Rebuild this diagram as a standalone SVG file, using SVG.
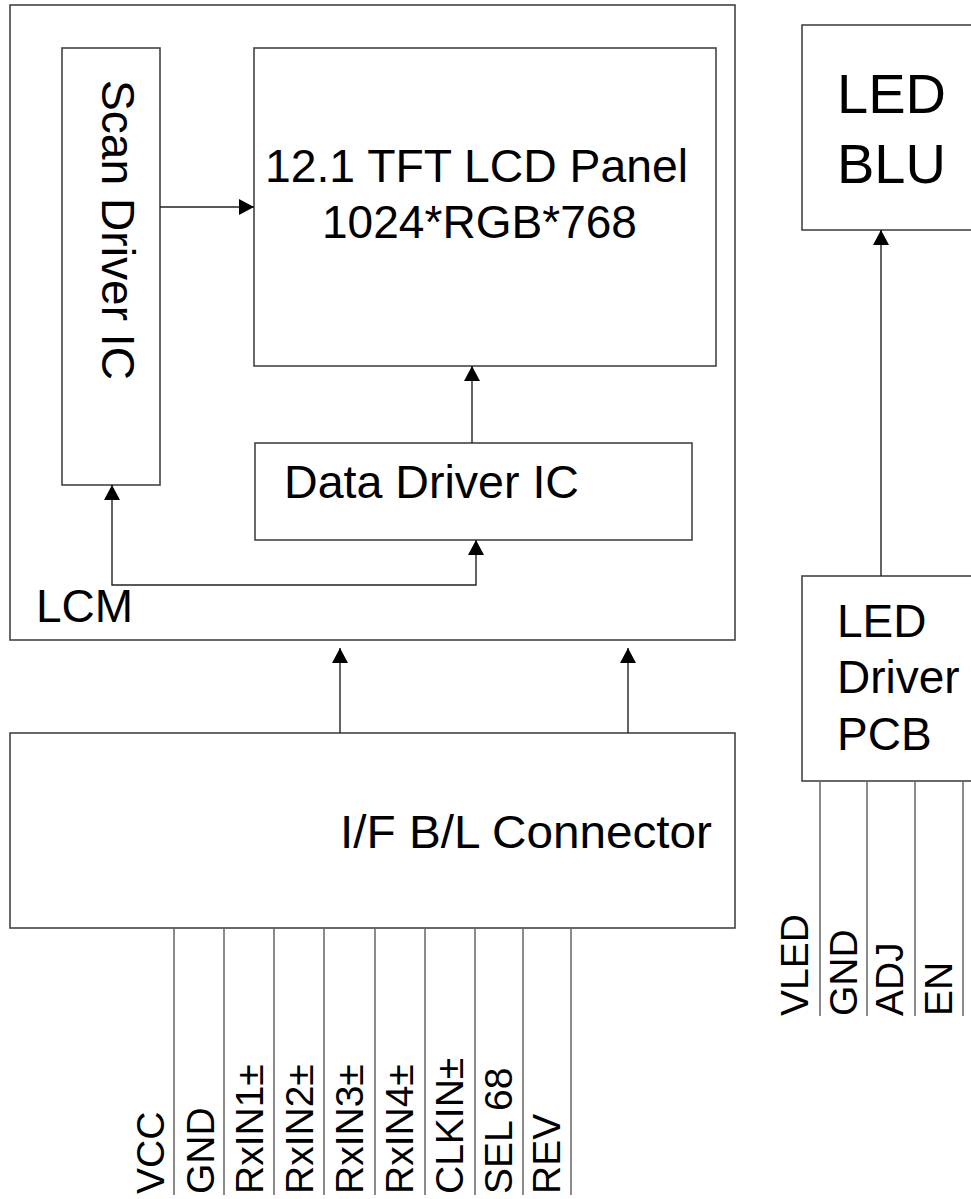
<svg xmlns="http://www.w3.org/2000/svg" width="971" height="1199" viewBox="0 0 971 1199">
<style>
.box{fill:#fff;stroke:#444;stroke-width:1.6}
.pin{stroke:#666;stroke-width:1.5;fill:none}
.con{stroke:#222;stroke-width:1.4;fill:none}
text{font-family:"Liberation Sans",Arial,sans-serif;fill:#000}
.big{font-size:46px}
.pl{font-size:39px}
</style>
<defs>
<marker id="ah" markerUnits="userSpaceOnUse" viewBox="0 0 15 16" refX="15" refY="8" markerWidth="15" markerHeight="16" orient="auto-start-reverse">
<path d="M0,0 L15,8 L0,16 z" fill="#000"/>
</marker>
</defs>
<rect width="971" height="1199" fill="#fff"/>
<g id="lcm">
<rect class="box" x="10" y="5" width="725" height="635"/>
<text class="big" x="36" y="622" textLength="97" lengthAdjust="spacingAndGlyphs">LCM</text>
</g>
<g id="scan-driver">
<rect class="box" x="62" y="48" width="98" height="437"/>
<text class="big" transform="translate(102,80) rotate(90)" textLength="300" lengthAdjust="spacingAndGlyphs">Scan Driver IC</text>
</g>
<g id="panel">
<rect class="box" x="254" y="48" width="462" height="318"/>
<text class="big" x="265" y="182" textLength="423" lengthAdjust="spacingAndGlyphs">12.1 TFT LCD Panel</text>
<text class="big" x="322" y="238" textLength="315" lengthAdjust="spacingAndGlyphs">1024*RGB*768</text>
</g>
<g id="data-driver">
<rect class="box" x="255" y="443" width="437" height="97"/>
<text class="big" x="284" y="498" textLength="295" lengthAdjust="spacingAndGlyphs">Data Driver IC</text>
</g>
<g id="connector">
<rect class="box" x="10" y="733" width="725" height="195"/>
<text class="big" x="340" y="848" textLength="372" lengthAdjust="spacingAndGlyphs">I/F B/L Connector</text>
</g>
<g id="led-blu">
<rect class="box" x="802" y="25" width="180" height="205"/>
<text x="837" y="113" font-size="56">LED</text>
<text x="837" y="183" font-size="56">BLU</text>
</g>
<g id="led-driver">
<rect class="box" x="802" y="576" width="180" height="205"/>
<text x="837" y="637" font-size="46">LED</text>
<text x="837" y="693" font-size="46">Driver</text>
<text x="837" y="750" font-size="46">PCB</text>
</g>
<g id="connector-pins">
<path class="pin" d="M174,928V1195M224,928V1195M274,928V1195M324,928V1195M375,928V1195M425,928V1195M475,928V1195M523,928V1195M571,928V1195"/>
<text class="pl" transform="translate(164,1194) rotate(-90)">VCC</text>
<text class="pl" transform="translate(214,1194) rotate(-90)">GND</text>
<text class="pl" transform="translate(263,1194) rotate(-90)">RxIN1±</text>
<text class="pl" transform="translate(313,1194) rotate(-90)">RxIN2±</text>
<text class="pl" transform="translate(363,1194) rotate(-90)">RxIN3±</text>
<text class="pl" transform="translate(413,1194) rotate(-90)">RxIN4±</text>
<text class="pl" transform="translate(463,1194) rotate(-90)">CLKIN±</text>
<text class="pl" transform="translate(512,1194) rotate(-90)">SEL 68</text>
<text class="pl" transform="translate(560,1194) rotate(-90)">REV</text>
</g>
<g id="led-driver-pins">
<path class="pin" d="M820,781V1016M867,781V1016M915,781V1016M963,781V1016"/>
<text class="pl" transform="translate(808,1016) rotate(-90)">VLED</text>
<text class="pl" transform="translate(857,1016) rotate(-90)">GND</text>
<text class="pl" transform="translate(903,1016) rotate(-90)">ADJ</text>
<text class="pl" transform="translate(952,1016) rotate(-90)">EN</text>
</g>
<g id="connectors">
<path class="con" d="M160,207H254" marker-end="url(#ah)"/>
<path class="con" d="M472,443V366" marker-end="url(#ah)"/>
<path class="con" d="M112,485V585H476V540" marker-start="url(#ah)" marker-end="url(#ah)"/>
<path class="con" d="M340,733V648" marker-end="url(#ah)"/>
<path class="con" d="M628,733V648" marker-end="url(#ah)"/>
<path class="con" d="M881,576V230" marker-end="url(#ah)"/>
</g>
</svg>
